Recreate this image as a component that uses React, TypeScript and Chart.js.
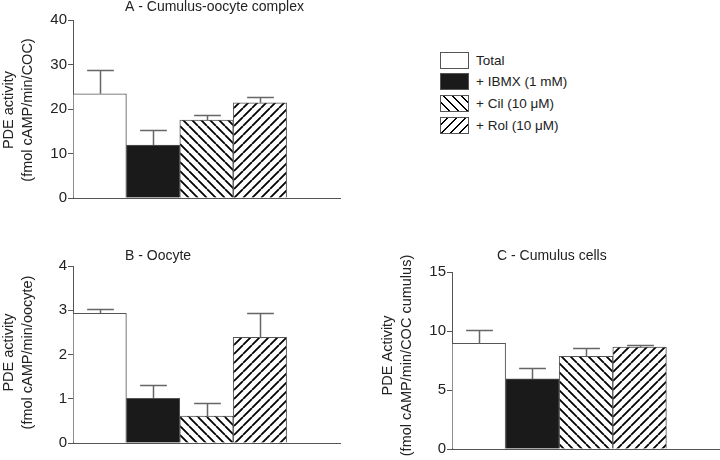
import React, { useEffect, useRef } from 'react';
import { Chart, registerables } from 'chart.js';

Chart.register(...registerables);

// ---------- data ----------
const categories = ['Total', '+ IBMX (1 mM)', '+ Cil (10 μM)', '+ Rol (10 μM)', ''];

const panelAValues = [23.4, 11.9, 17.5, 21.4];
const panelAErrors = [5.4, 3.3, 1.1, 1.2];
const panelATicks = [0, 10, 20, 30, 40];

const panelBValues = [2.93, 1.01, 0.61, 2.39];
const panelBErrors = [0.09, 0.3, 0.29, 0.55];
const panelBTicks = [0, 1, 2, 3, 4];

const panelCValues = [8.95, 5.94, 7.85, 8.64];
const panelCErrors = [1.13, 0.9, 0.71, 0.2];
const panelCTicks = [0, 5, 10, 15];

const legendLabels = ['Total', '+ IBMX (1 mM)', '+ Cil (10 μM)', '+ Rol (10 μM)'];

// ---------- style ----------
const FONT = "'Liberation Sans', Arial, Helvetica, sans-serif";
const TEXT = '#222';
const AXIS = '#555';
const EDGE = '#555';
const ERR = '#666';
const BLACK_FILL = '#1a1a1a';

function makeHatch(ctx: CanvasRenderingContext2D, dir: 'back' | 'fwd') {
  const s = 9;
  const tile = document.createElement('canvas');
  tile.width = s;
  tile.height = s;
  const t = tile.getContext('2d')!;
  t.fillStyle = '#fff';
  t.fillRect(0, 0, s, s);
  t.strokeStyle = '#000';
  t.lineWidth = 1.8;
  t.beginPath();
  for (let k = -1; k <= 1; k++) {
    if (dir === 'back') {
      t.moveTo(k * s, 0);
      t.lineTo(k * s + s, s);
    } else {
      t.moveTo(k * s, s);
      t.lineTo(k * s + s, 0);
    }
  }
  t.stroke();
  return ctx.createPattern(tile, 'repeat')!;
}

type PanelProps = {
  title: string;
  titleDx: number;
  titleDy: number;
  yTitle: string[];
  yTitleShift: number;
  values: number[];
  errors: number[];
  ticks: number[];
  left: number;
  top: number;
  width: number;
  height: number;
  padTop: number;
  padRight: number;
};

function Panel(p: PanelProps) {
  const ref = useRef<HTMLCanvasElement>(null);
  useEffect(() => {
    const canvas = ref.current!;
    const ctx = canvas.getContext('2d')!;
    const cil = makeHatch(ctx, 'back');
    const rol = makeHatch(ctx, 'fwd');
    const tmin = p.ticks[0];
    const tmax = p.ticks[p.ticks.length - 1];

    const decor = {
      id: 'panelDecor',
      afterDatasetsDraw(chart: any) {
        const meta = chart.getDatasetMeta(0);
        const y = chart.scales.y;
        const c = chart.ctx as CanvasRenderingContext2D;
        c.save();
        c.strokeStyle = ERR;
        c.lineWidth = 1.5;
        p.errors.forEach((e, i) => {
          const bar = meta.data[i];
          const v = p.values[i];
          const x = Math.round(bar.x) + 0.5;
          const yTop = Math.round(y.getPixelForValue(v + e)) + 0.5;
          const yBase = y.getPixelForValue(v);
          const cap = bar.width / 4;
          c.beginPath();
          c.moveTo(x, yBase);
          c.lineTo(x, yTop);
          c.moveTo(x - cap, yTop);
          c.lineTo(x + cap, yTop);
          c.stroke();
        });
        c.restore();
      },
      afterDraw(chart: any) {
        const c = chart.ctx as CanvasRenderingContext2D;
        const area = chart.chartArea;
        c.save();
        c.fillStyle = TEXT;
        c.font = `14px ${FONT}`;
        c.textAlign = 'left';
        c.textBaseline = 'middle';
        c.fillText(p.title, area.left + p.titleDx, area.top - p.titleDy);
        // y axis title (two rotated lines)
        const yc = (area.top + area.bottom) / 2 + p.yTitleShift;
        c.font = `14.5px ${FONT}`;
        c.textAlign = 'center';
        c.textBaseline = 'alphabetic';
        const baselines = [13.3, 32.3];
        p.yTitle.forEach((line, i) => {
          c.save();
          c.translate(baselines[i], yc);
          c.rotate(-Math.PI / 2);
          c.fillText(line, 0, 0);
          c.restore();
        });
        c.restore();
      },
    };

    const chart = new Chart(ctx, {
      type: 'bar',
      data: {
        labels: categories,
        datasets: [
          {
            data: [...p.values, null] as any,
            backgroundColor: ['#ffffff', BLACK_FILL, cil, rol, '#ffffff'] as any,
            borderColor: EDGE,
            borderWidth: 1,
            borderSkipped: 'bottom',
            categoryPercentage: 1,
            barPercentage: 1,
          },
        ],
      },
      options: {
        responsive: false,
        animation: false,
        devicePixelRatio: 1,
        layout: { padding: { top: p.padTop, right: p.padRight, left: 0, bottom: 0 } },
        plugins: {
          legend: { display: false },
          tooltip: { enabled: false },
          title: { display: false },
        },
        scales: {
          x: {
            display: true,
            ticks: { display: false },
            grid: { display: false },
            border: { display: true, color: AXIS, width: 1 },
            afterFit: (s: any) => {
              s.height = 12;
            },
          },
          y: {
            min: tmin,
            max: tmax,
            ticks: {
              color: TEXT,
              font: { family: FONT, size: 15 },
              padding: 1,
              autoSkip: false,
            },
            grid: {
              drawOnChartArea: false,
              drawTicks: true,
              tickLength: 5,
              color: AXIS,
              lineWidth: 1,
            },
            border: { display: true, color: AXIS, width: 1 },
            afterBuildTicks: (s: any) => {
              s.ticks = p.ticks.map((v) => ({ value: v }));
            },
            afterFit: (s: any) => {
              s.width = 73;
            },
          },
        },
      },
      plugins: [decor as any],
    });
    return () => chart.destroy();
  }, []);
  return (
    <canvas
      ref={ref}
      width={p.width}
      height={p.height}
      style={{ position: 'absolute', left: p.left, top: p.top, width: p.width, height: p.height }}
    />
  );
}

function hatchCss(deg: number) {
  return `repeating-linear-gradient(${deg}deg, #fff 0px, #fff 5px, #000 5px, #000 6.4px)`;
}

function Legend() {
  const swatches = [
    { background: '#fff' },
    { background: BLACK_FILL },
    { background: hatchCss(45) },
    { background: hatchCss(-45) },
  ];
  const tops = [52, 73, 94.5, 117];
  return (
    <>
      {legendLabels.map((label, i) => (
        <div key={label}>
          <div
            style={{
              position: 'absolute',
              left: 440,
              top: tops[i],
              width: 29,
              height: 17,
              boxSizing: 'border-box',
              border: `1.5px solid ${EDGE}`,
              ...swatches[i],
            }}
          />
          <div
            style={{
              position: 'absolute',
              left: 476,
              top: tops[i],
              height: 17,
              lineHeight: '17px',
              fontFamily: FONT,
              fontSize: 13.5,
              color: TEXT,
              whiteSpace: 'nowrap',
            }}
          >
            {label}
          </div>
        </div>
      ))}
    </>
  );
}

export default function App() {
  return (
    <div
      style={{
        position: 'absolute',
        left: 0,
        top: 0,
        width: 720,
        height: 460,
        background: '#fff',
        overflow: 'hidden',
      }}
    >
      <Panel
        title="A - Cumulus-oocyte complex"
        titleDx={52}
        titleDy={13}
        yTitle={['PDE activity', '(fmol cAMP/min/COC)']}
        yTitleShift={1}
        values={panelAValues}
        errors={panelAErrors}
        ticks={panelATicks}
        left={0}
        top={0}
        width={345}
        height={210}
        padTop={20}
        padRight={5}
      />
      <Panel
        title="B - Oocyte"
        titleDx={52}
        titleDy={10}
        yTitle={['PDE activity', '(fmol cAMP/min/oocyte)']}
        yTitleShift={-2}
        values={panelBValues}
        errors={panelBErrors}
        ticks={panelBTicks}
        left={0}
        top={246}
        width={345}
        height={209}
        padTop={20}
        padRight={5}
      />
      <Panel
        title="C - Cumulus cells"
        titleDx={45}
        titleDy={16}
        yTitle={['PDE Activity', '(fmol cAMP/min/COC cumulus)']}
        yTitleShift={-5}
        values={panelCValues}
        errors={panelCErrors}
        ticks={panelCTicks}
        left={379}
        top={246}
        width={341}
        height={215}
        padTop={26}
        padRight={0}
      />
      <Legend />
    </div>
  );
}
